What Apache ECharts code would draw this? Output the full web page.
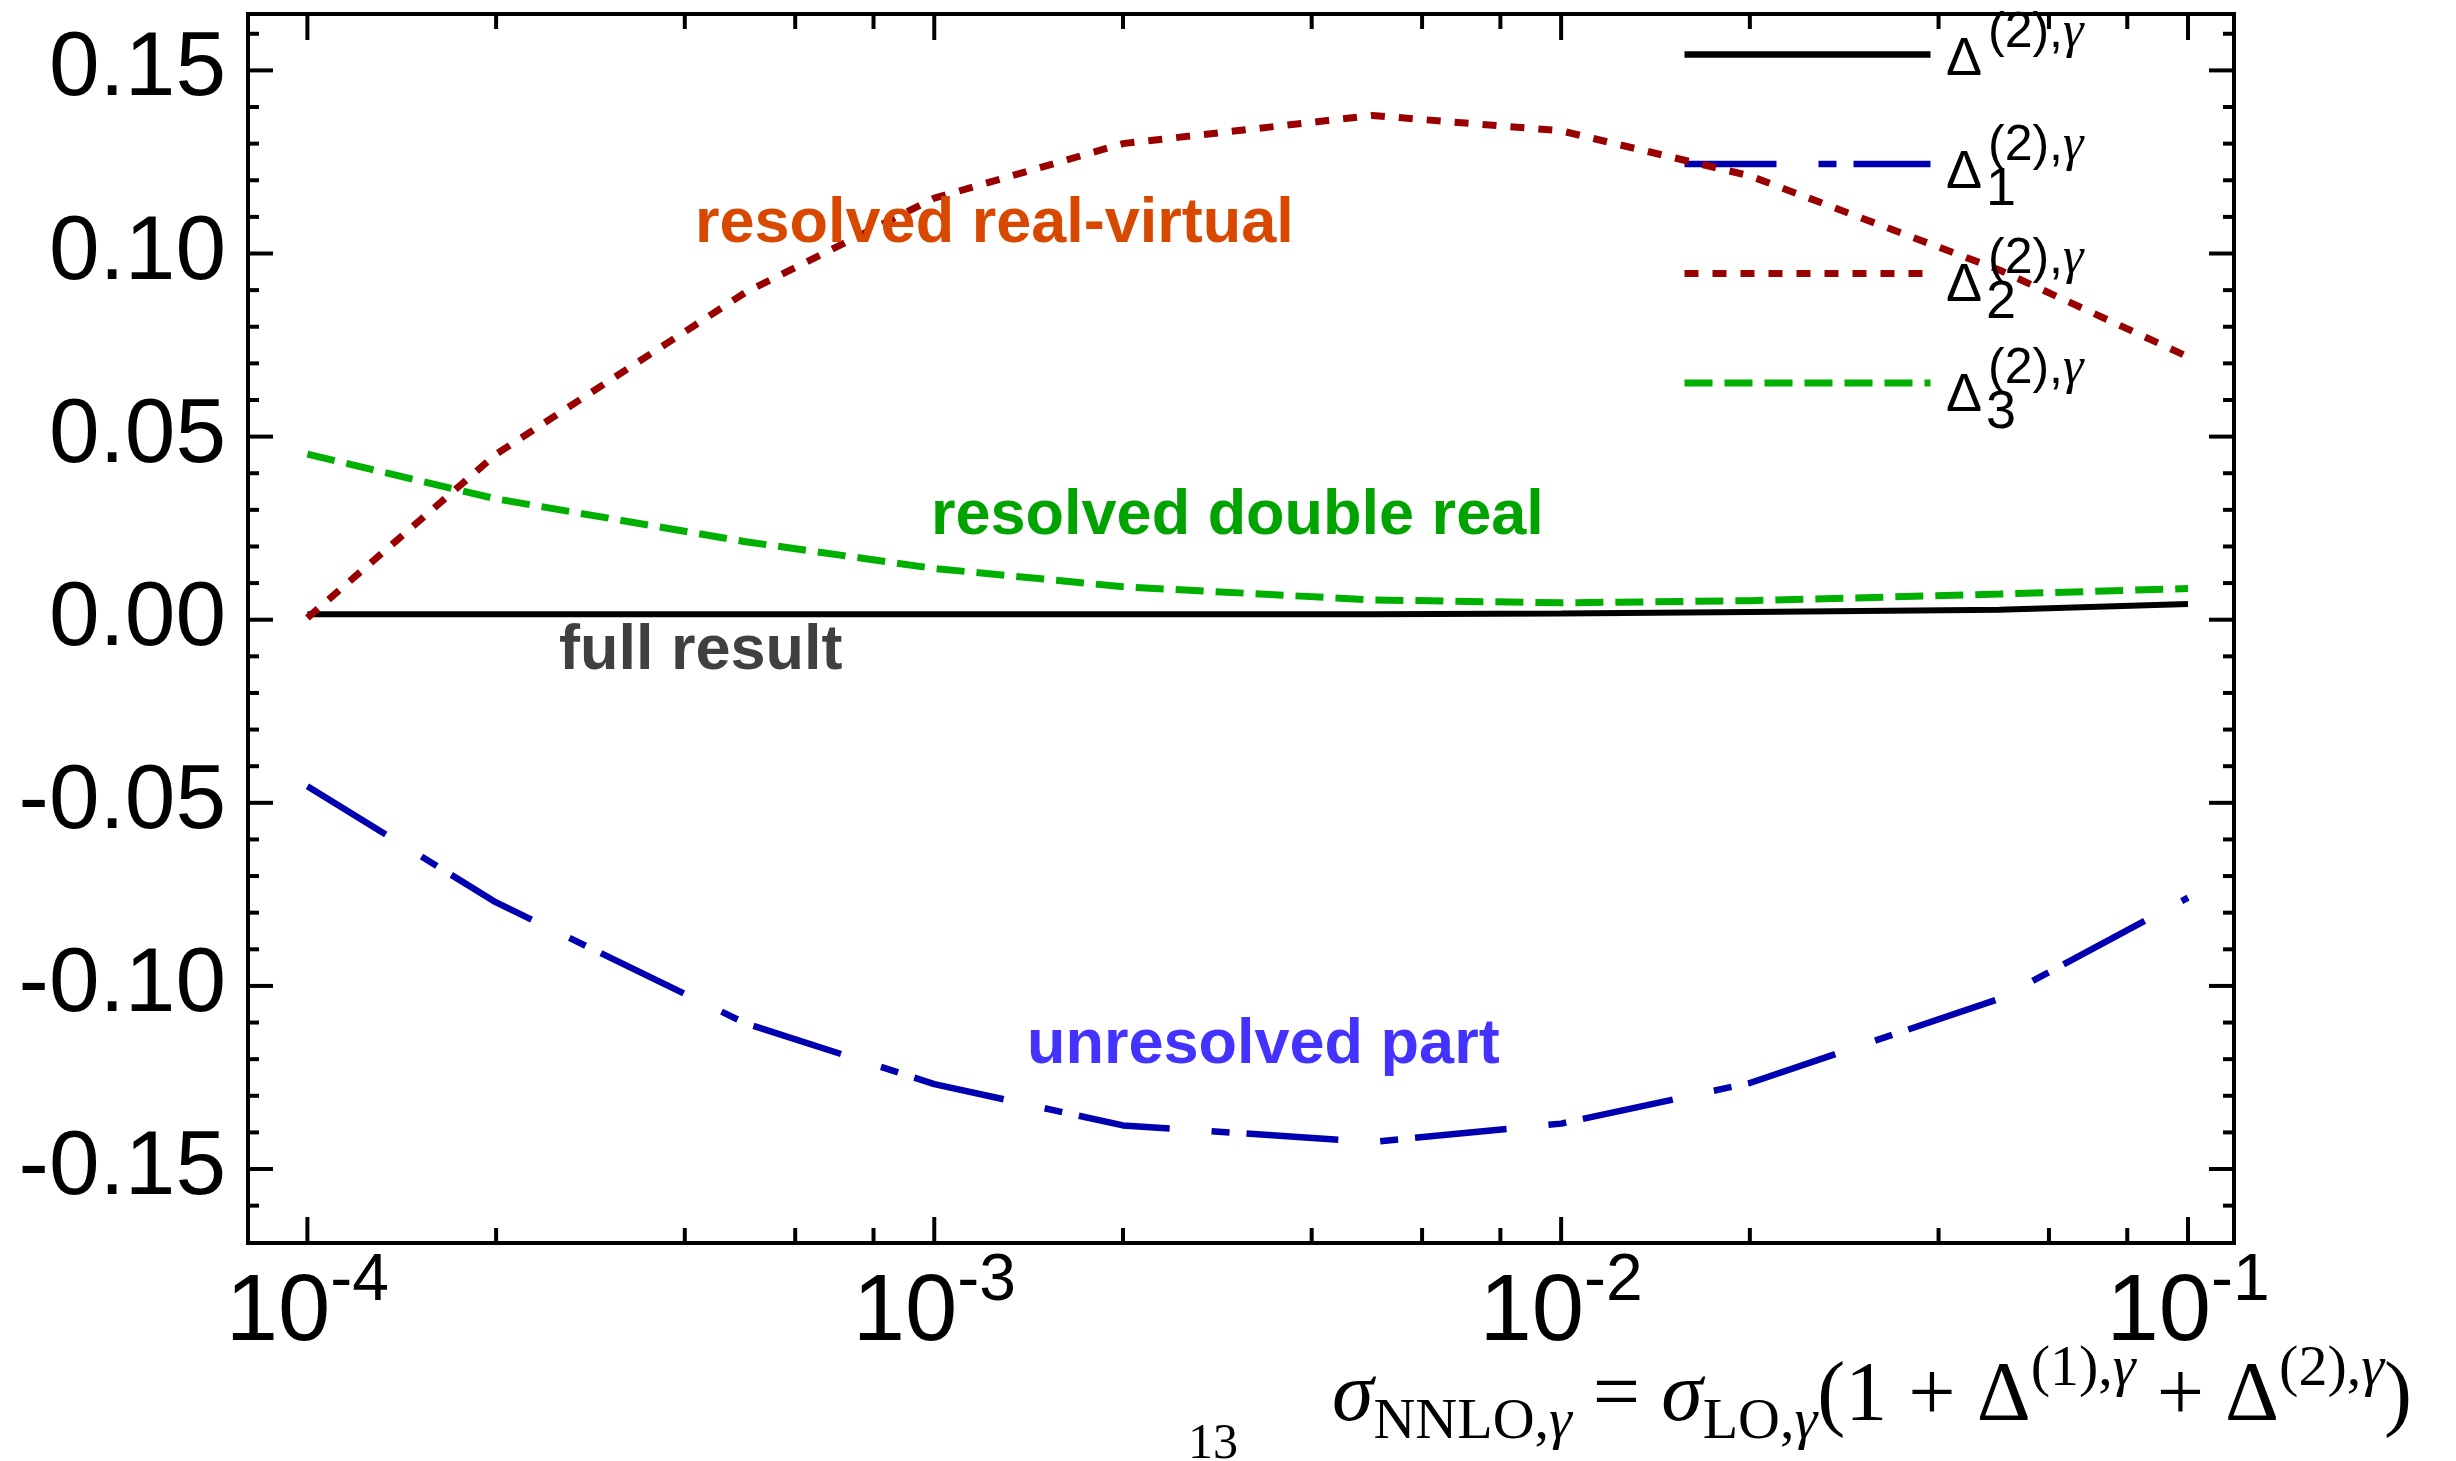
<!DOCTYPE html>
<html><head><meta charset="utf-8">
<script src="https://cdn.jsdelivr.net/npm/echarts@6/dist/echarts.min.js"></script>
<style>html,body{margin:0;padding:0;background:#fff}#c{width:2456px;height:1461px}</style>
</head><body><div id="c"></div>
<script>
// ---- data ----
const xValues = [1e-4, 2e-4, 5e-4, 1e-3, 2e-3, 5e-3, 1e-2, 2e-2, 5e-2, 1e-1];
const deltaTotal = [0.0015, 0.0015, 0.0015, 0.0015, 0.0015, 0.0015, 0.0017, 0.0021, 0.0027, 0.0043];
const delta1 = [-0.0455, -0.0772, -0.1102, -0.1268, -0.1381, -0.1426, -0.1376, -0.1265, -0.1035, -0.0759];
const delta2 = [0.0005, 0.0452, 0.0894, 0.1151, 0.1300, 0.1377, 0.1335, 0.1212, 0.0955, 0.0718];
const delta3 = [0.0452, 0.0330, 0.0213, 0.0140, 0.0090, 0.0054, 0.0046, 0.0052, 0.0070, 0.0085];
const seriesNames = ['Δ(2),γ', 'Δ1(2),γ', 'Δ2(2),γ', 'Δ3(2),γ'];
const xMajorTicks = [1e-4, 1e-3, 1e-2, 1e-1];
const xMinorTicks = [2e-4, 4e-4, 6e-4, 8e-4, 2e-3, 4e-3, 6e-3, 8e-3, 2e-2, 4e-2, 6e-2, 8e-2];
const yMajorTicks = [-0.15, -0.10, -0.05, 0, 0.05, 0.10, 0.15];
const yMinorTicks = [-0.16, -0.14, -0.13, -0.12, -0.11, -0.09, -0.08, -0.07, -0.06, -0.04, -0.03, -0.02, -0.01,
                     0.01, 0.02, 0.03, 0.04, 0.06, 0.07, 0.08, 0.09, 0.11, 0.12, 0.13, 0.14, 0.16];
const annotations = ['resolved real-virtual', 'resolved double real', 'full result', 'unresolved part'];
const xMin = 8.04e-5, xMax = 0.1184, yMin = -0.1702, yMax = 0.1654;

const pairs = ys => xValues.map((x, i) => [x, ys[i]]);

const chart = echarts.init(document.getElementById('c'), null, {renderer: 'canvas'});

function tickRenderer(isX) {
  return function (params, api) {
    const v = isX ? api.value(0) : api.value(1);
    const major = api.value(2) === 1;
    const color = '#000', lw = 4;
    if (isX) {
      const L = major ? 26 : 15;
      const b = api.coord([v, yMin]), t = api.coord([v, yMax]);
      return {type: 'group', children: [
        {type: 'line', shape: {x1: b[0], y1: b[1], x2: b[0], y2: b[1] - L}, style: {stroke: color, lineWidth: lw}},
        {type: 'line', shape: {x1: t[0], y1: t[1], x2: t[0], y2: t[1] + L}, style: {stroke: color, lineWidth: lw}}
      ]};
    } else {
      const L = major ? 25 : 11;
      const l = api.coord([xMin, v]), r = api.coord([xMax, v]);
      return {type: 'group', children: [
        {type: 'line', shape: {x1: l[0], y1: l[1], x2: l[0] + L, y2: l[1]}, style: {stroke: color, lineWidth: lw}},
        {type: 'line', shape: {x1: r[0], y1: r[1], x2: r[0] - L, y2: r[1]}, style: {stroke: color, lineWidth: lw}}
      ]};
    }
  };
}

const boldTxt = (text, x, y, color) => ({
  type: 'text', x: x, y: y, silent: true, z: 20,
  style: {text: text, fill: color, font: 'bold 63px "Liberation Sans", Arial, sans-serif', align: 'left', verticalAlign: 'middle'}
});

function legendLabel(y0, sub) {
  const els = [
    {type: 'text', x: 1946, y: y0, z: 20, silent: true,
     style: {text: 'Δ', fill: '#000', font: '54px "Liberation Sans", Arial, sans-serif', align: 'left', verticalAlign: 'middle'}},
    {type: 'text', x: 1988, y: y0 - 27, z: 20, silent: true,
     style: {text: '{a|(2),}{g|γ}', align: 'left', verticalAlign: 'middle',
       rich: {a: {fontSize: 50, fontFamily: 'Liberation Sans', color: '#000'},
              g: {fontSize: 52, fontFamily: 'Liberation Serif', fontStyle: 'italic', color: '#000'}}}}
  ];
  if (sub) {
    els.push({type: 'text', x: 1986, y: y0 + 17, z: 20, silent: true,
      style: {text: sub, fill: '#000', font: '54px "Liberation Sans", Arial, sans-serif', align: 'left', verticalAlign: 'middle'}});
  }
  return els;
}

const option = {
  animation: false,
  backgroundColor: '#fff',
  grid: {left: 248, top: 14, width: 1986, height: 1229, show: true, borderColor: '#000', borderWidth: 4, backgroundColor: 'transparent'},
  xAxis: {
    type: 'log', logBase: 10, min: xMin, max: xMax,
    axisLine: {show: false}, axisTick: {show: false}, splitLine: {show: false}, minorTick: {show: false},
    axisLabel: {
      margin: 6, showMinLabel: false, showMaxLabel: false,
      formatter: function (v) {
        const e = Math.log10(v), r = Math.round(e);
        if (Math.abs(e - r) > 1e-6) return '';
        return '{b|10}{s|' + r + '}';
      },
      rich: {
        b: {fontSize: 94, fontFamily: 'Liberation Sans', color: '#000'},
        s: {fontSize: 66, fontFamily: 'Liberation Sans', color: '#000', padding: [0, 0, 64, 0]}
      }
    }
  },
  yAxis: {
    type: 'value', min: yMin, max: yMax,
    axisLine: {show: false}, axisTick: {show: false}, splitLine: {show: false},
    axisLabel: {
      margin: 22, fontSize: 91, fontFamily: 'Liberation Sans', color: '#000',
      formatter: function (v) {
        if (Math.abs(v * 20 - Math.round(v * 20)) > 1e-6) return '';
        if (Math.abs(v) < 1e-9) v = 0;
        return v.toFixed(2);
      }
    }
  },
  legend: {
    orient: 'vertical', left: 1676, top: 42.6, itemWidth: 246, itemHeight: 14, itemGap: 96.9,
    formatter: function () { return ''; },
    itemStyle: {opacity: 0},
    selectedMode: false,
    data: [
      {name: seriesNames[0], lineStyle: {width: 6.5}},
      {name: seriesNames[1], lineStyle: {width: 6.5}},
      {name: seriesNames[2], lineStyle: {width: 7}},
      {name: seriesNames[3], lineStyle: {width: 7}}
    ]
  },
  series: [
    {name: seriesNames[0], type: 'line', data: pairs(deltaTotal), symbol: 'none', z: 3,
     lineStyle: {color: '#000000', width: 6, type: 'solid'}, itemStyle: {color: '#000000'}},
    {name: seriesNames[1], type: 'line', data: pairs(delta1), symbol: 'none', z: 3,
     lineStyle: {color: '#0000B0', width: 6.5, type: [92, 42, 18, 17], dashOffset: 0}, itemStyle: {color: '#0000B0'}},
    {name: seriesNames[2], type: 'line', data: pairs(delta2), symbol: 'none', z: 4,
     lineStyle: {color: '#990000', width: 7, type: [14, 14]}, itemStyle: {color: '#990000'}},
    {name: seriesNames[3], type: 'line', data: pairs(delta3), symbol: 'none', z: 4,
     lineStyle: {color: '#00B000', width: 7, type: [28, 12]}, itemStyle: {color: '#00B000'}},
    {name: 'xticks', type: 'custom', silent: true, z: 10, clip: false,
     data: xMajorTicks.map(v => [v, 0, 1]).concat(xMinorTicks.map(v => [v, 0, 0])),
     encode: {x: 0, y: 1}, renderItem: tickRenderer(true)},
    {name: 'yticks', type: 'custom', silent: true, z: 10, clip: false,
     data: yMajorTicks.map(v => [xMin, v, 1]).concat(yMinorTicks.map(v => [xMin, v, 0])),
     encode: {x: 0, y: 1}, renderItem: tickRenderer(false)}
  ],
  graphic: [
    boldTxt(annotations[0], 695, 225, '#D84800'),
    boldTxt(annotations[1], 931, 517, '#00A300'),
    boldTxt(annotations[2], 559, 652, '#404040'),
    boldTxt(annotations[3], 1027, 1046, '#4433FF'),
    ...legendLabel(60, null),
    ...legendLabel(173, '1'),
    ...legendLabel(286, '2'),
    ...legendLabel(396, '3'),
    {type: 'text', x: 1332, y: 1398, z: 20, silent: true,
     style: {
       text: '{i|σ}{sub|NNLO,}{subi|γ}{m| = }{i|σ}{sub|LO,}{subi|γ}{m|(1 + Δ}{sup|(1),}{supi|γ}{m| + Δ}{sup|(2),}{supi|γ}{m|)}',
       align: 'left', verticalAlign: 'middle',
       rich: {
         m: {fontSize: 84, fontFamily: 'Liberation Serif', color: '#000'},
         i: {fontSize: 84, fontFamily: 'Liberation Serif', fontStyle: 'italic', color: '#000'},
         sub: {fontSize: 58, fontFamily: 'Liberation Serif', color: '#000', padding: [50, 0, 0, 0]},
         subi: {fontSize: 58, fontFamily: 'Liberation Serif', fontStyle: 'italic', color: '#000', padding: [50, 0, 0, 0]},
         sup: {fontSize: 58, fontFamily: 'Liberation Serif', color: '#000', padding: [0, 0, 56, 0]},
         supi: {fontSize: 58, fontFamily: 'Liberation Serif', fontStyle: 'italic', color: '#000', padding: [0, 0, 56, 0]}
       }
     }},
    {type: 'text', x: 1213, y: 1445, z: 20, silent: true,
     style: {text: '13', fill: '#000', font: '50px "Liberation Serif", serif', align: 'center', verticalAlign: 'middle'}}
  ]
};
chart.setOption(option);
</script>
</body></html>
